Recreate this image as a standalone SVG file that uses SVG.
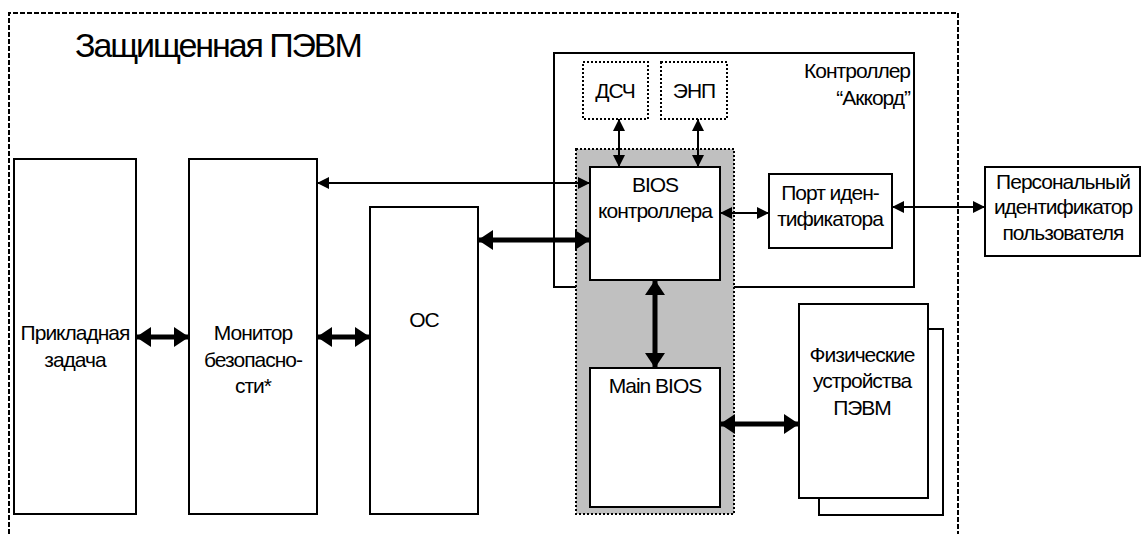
<svg xmlns="http://www.w3.org/2000/svg" width="1143" height="534" viewBox="0 0 1143 534">
<defs>
<style>
.box{fill:#fff;stroke:#000;stroke-width:2}
.dot{fill:#fff;stroke:#000;stroke-width:2;stroke-dasharray:2 2}
.t{font-family:"Liberation Sans",Arial,sans-serif;font-size:21px;letter-spacing:-1px;fill:#000;text-anchor:middle}
.thin{stroke:#000;stroke-width:2;fill:none;marker-start:url(#ah);marker-end:url(#ah)}
.thick{stroke:#000;stroke-width:5;fill:none;marker-start:url(#AH);marker-end:url(#AH)}
</style>
<marker id="ah" markerUnits="userSpaceOnUse" viewBox="0 0 12 12" refX="12" refY="6" markerWidth="12" markerHeight="12" orient="auto-start-reverse"><path d="M0,0 L12,6 L0,12 z" fill="#000"/></marker>
<marker id="AH" markerUnits="userSpaceOnUse" viewBox="0 0 15 20" refX="15" refY="10" markerWidth="15" markerHeight="20" orient="auto-start-reverse"><path d="M0,0 L15,10 L0,20 z" fill="#000"/></marker>
</defs>
<rect width="1143" height="534" fill="#fff"/>
<g id="pevm">
<path d="M9,534 V13 H958 V534" fill="none" stroke="#000" stroke-width="2" stroke-dasharray="5 2"/>
<text x="75" y="57" style="font-family:'Liberation Sans',Arial,sans-serif;font-size:34px;letter-spacing:-2.1px">Защищенная ПЭВМ</text>
</g>
<g id="app"><rect class="box" x="14" y="159" width="122" height="355"/><text class="t" x="75" y="340">Прикладная</text><text class="t" x="75" y="367">задача</text></g>
<g id="monitor"><rect class="box" x="189" y="159" width="128" height="355"/><text class="t" x="253" y="340">Монитор</text><text class="t" x="253" y="367">безопасно-</text><text class="t" x="253" y="393">сти*</text></g>
<g id="os"><rect class="box" x="370" y="207" width="108" height="307"/><text class="t" x="424" y="327">ОС</text></g>
<g id="controller"><rect class="box" x="554" y="53" width="360" height="234"/><text class="t" x="910" y="78" style="text-anchor:end">Контроллер</text><text class="t" x="910" y="105" style="text-anchor:end">“Аккорд”</text></g>
<g id="dsch"><rect class="dot" x="583" y="62" width="65" height="57"/><text class="t" x="615" y="98">ДСЧ</text></g>
<g id="enp"><rect class="dot" x="661" y="62" width="66" height="57"/><text class="t" x="694" y="98">ЭНП</text></g>
<g id="bios-area"><rect x="576" y="149" width="158" height="365" fill="#c0c0c0" stroke="#000" stroke-width="2" stroke-dasharray="2 2"/></g>
<g id="bios-ctrl"><rect class="box" x="590" y="167" width="130" height="113"/><text class="t" x="655" y="192">BIOS</text><text class="t" x="655" y="218">контроллера</text></g>
<g id="main-bios"><rect class="box" x="590" y="368" width="130" height="139"/><text class="t" x="655" y="393">Main BIOS</text></g>
<g id="port"><rect class="box" x="769" y="174" width="123" height="74"/><text class="t" x="830" y="200">Порт иден-</text><text class="t" x="830" y="226">тификатора</text></g>
<g id="personal"><rect class="box" x="985" y="167" width="155" height="89"/><text class="t" x="1063" y="189">Персональный</text><text class="t" x="1063" y="214">идентификатор</text><text class="t" x="1063" y="240">пользователя</text></g>
<g id="devices"><rect class="box" x="819" y="329" width="124" height="186"/><rect class="box" x="799" y="304" width="129" height="194"/><text class="t" x="862" y="362">Физические</text><text class="t" x="862" y="388">устройства</text><text class="t" x="862" y="415">ПЭВМ</text></g>
<g id="connectors">
<line class="thin" x1="317" y1="183" x2="590" y2="183"/>
<line class="thick" x1="478" y1="240" x2="590" y2="240"/>
<line class="thick" x1="136" y1="337" x2="189" y2="337"/>
<line class="thick" x1="317" y1="337" x2="370" y2="337"/>
<line class="thin" x1="619" y1="119" x2="619" y2="167"/>
<line class="thin" x1="698" y1="119" x2="698" y2="167"/>
<line class="thin" x1="720" y1="213" x2="769" y2="213"/>
<line class="thin" x1="892" y1="207" x2="985" y2="207"/>
<line class="thick" x1="655" y1="280" x2="655" y2="368"/>
<line class="thick" x1="720" y1="424" x2="799" y2="424"/>
</g>
</svg>
